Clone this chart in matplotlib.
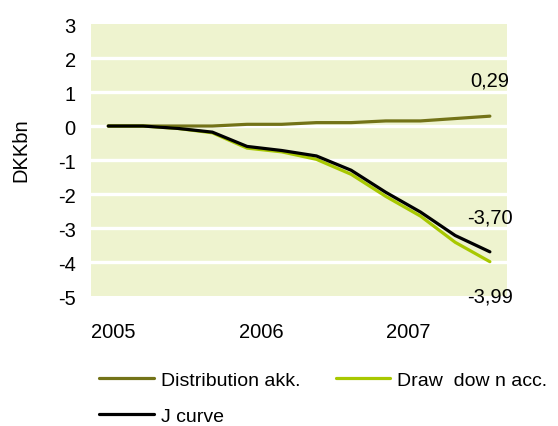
import matplotlib.pyplot as plt

plt.rcParams['font.family'] = ['Liberation Sans', 'DejaVu Sans']

# quarterly values, 2005 Q1 .. 2007 Q4 (DKK bn)
quarters = list(range(12))
distribution = [0, 0, 0, 0, 0.05, 0.05, 0.1, 0.1, 0.15, 0.15, 0.22, 0.29]
draw_down = [0, 0, -0.07, -0.2, -0.65, -0.76, -0.98, -1.42, -2.07, -2.65, -3.42, -3.99]
j_curve = [0, 0, -0.07, -0.18, -0.6, -0.72, -0.88, -1.3, -1.95, -2.53, -3.22, -3.70]
year_labels = ['2005', '2006', '2007']
yticks = [-5, -4, -3, -2, -1, 0, 1, 2, 3]

c_dist = '#737318'
c_draw = '#a8c800'
c_j = '#000000'
bg = '#eef3cf'

fig = plt.figure(figsize=(5.58, 4.27), dpi=100)
ax = fig.add_axes([0.163, 0.3044, 0.746, 0.637])
ax.set_facecolor(bg)

for y in yticks[1:-1]:
    ax.axhline(y, color='white', lw=2.4, zorder=1)

l1, = ax.plot(quarters, distribution, color=c_dist, lw=2.3, zorder=3,
              solid_capstyle='round', label='Distribution akk.')
l2, = ax.plot(quarters, draw_down, color=c_draw, lw=2.3, zorder=3,
              solid_capstyle='round', label='Draw  dow n acc.')
l3, = ax.plot(quarters, j_curve, color=c_j, lw=2.3, zorder=4,
              solid_capstyle='round', label='J curve')

ax.set_xlim(-0.5, 11.5)
ax.set_ylim(-5, 3)
ax.set_yticks(yticks)
ax.set_yticklabels([str(v) for v in yticks])
ax.set_xticks([0.15, 4.4, 8.65])
ax.set_xticklabels(year_labels)
ax.tick_params(axis='both', length=0, labelsize=14.5)
ax.tick_params(axis='x', pad=19)
ax.tick_params(axis='y', pad=11)
for s in ax.spines.values():
    s.set_visible(False)

ax.set_ylabel('DKKbn', fontsize=14.5)
ax.yaxis.set_label_coords(-0.145, 0.54)

def fmt(v):
    return f'{v:.2f}'.replace('.', ',')

ax.annotate(fmt(distribution[-1]), (quarters[-1], distribution[-1]),
            xytext=(0, 26), textcoords='offset points', ha='center', va='center', fontsize=14.5)
ax.annotate(fmt(j_curve[-1]), (quarters[-1], j_curve[-1]),
            xytext=(0, 25), textcoords='offset points', ha='center', va='center', fontsize=14.5)
ax.annotate(fmt(draw_down[-1]), (quarters[-1], draw_down[-1]),
            xytext=(0, -25), textcoords='offset points', ha='center', va='center', fontsize=14.5,
            annotation_clip=False)

fig.legend([l1, l3, l2], [l1.get_label(), l3.get_label(), l2.get_label()],
           ncol=2, loc='upper left', bbox_to_anchor=(0.178, 0.128), frameon=False,
           fontsize=14, handlelength=2.8, handletextpad=0.35, columnspacing=1.85,
           labelspacing=0.95, borderaxespad=0, borderpad=0)

fig.savefig('out.png', dpi=100)
